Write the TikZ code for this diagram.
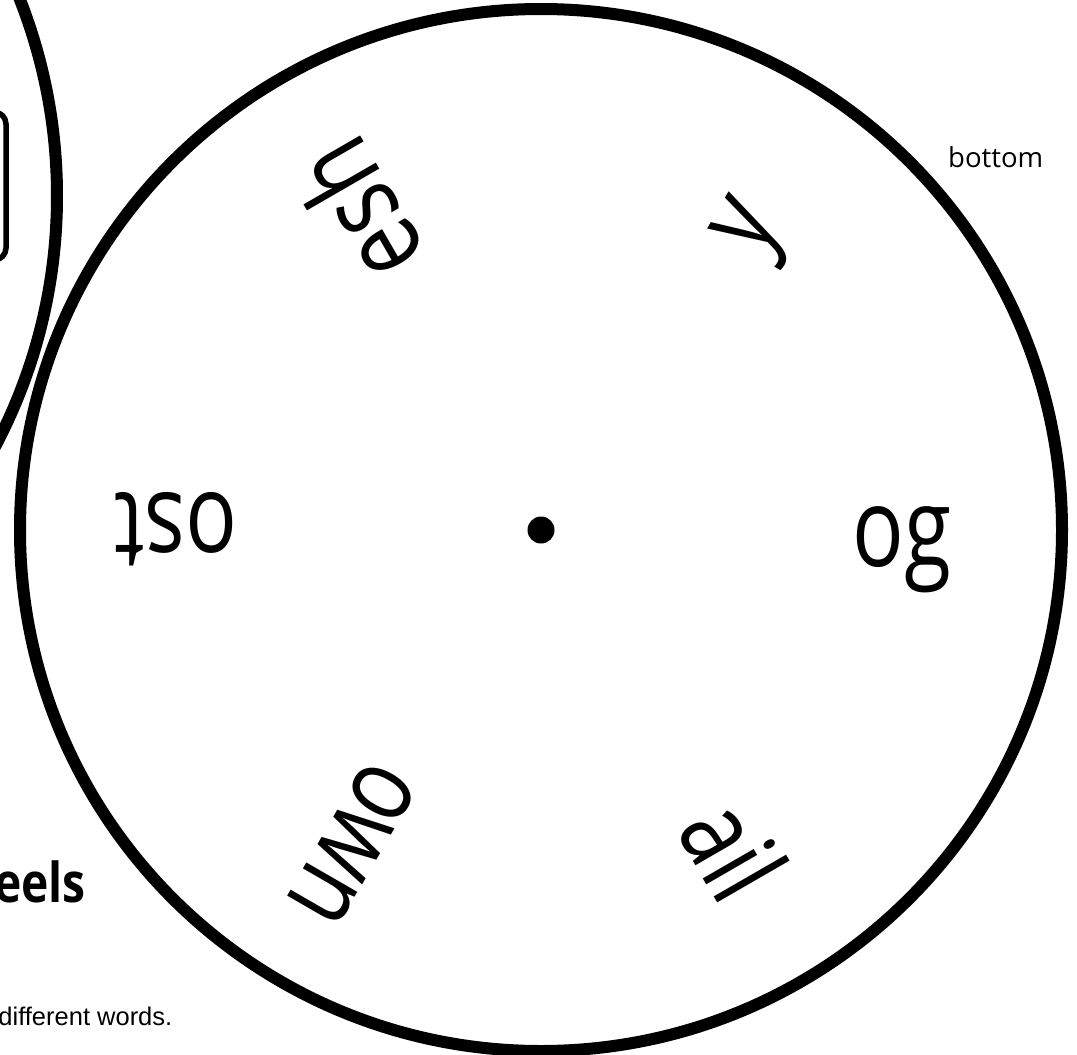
\documentclass[tikz,border=0pt]{standalone}
\usepackage{fontspec}
\setmainfont{Open Sans}
\newfontfamily\wheelfont[FakeStretch=0.78]{Open Sans}
\newfontfamily\titlefont[FakeStretch=0.84]{Open Sans}
\newfontfamily\arialfont{Liberation Sans}
\begin{document}
\begin{tikzpicture}[x=1pt,y=-1pt,
  ring/.style={line width=12pt, draw=black},
  word/.style={font=\wheelfont\fontsize{110}{120}\selectfont, inner sep=0pt,
    text height=100pt, text depth=27pt, anchor=center},
  hubdot/.style={fill=black, circle, minimum size=27pt, inner sep=0pt},
]
\useasboundingbox (0,0) rectangle (1077,1055);
\clip (0,0) rectangle (1077,1055);
% partial top wheel at left
\draw[line width=5.5pt, rounded corners=12pt] (-60,112) rectangle (6,260);
\draw[ring] (-480,196) circle[radius=537];
% bottom wheel
\draw[ring] (541,530) circle[radius=521];
\node[hubdot] (hub) at (541,530) {};
\node[word, rotate=0]   (w0) at (902,530)     {og};
\node[word, rotate=60]  (w1) at (738,222)     {y};
\node[word, rotate=120] (w2) at (361,210)     {esh};
\node[word, rotate=180] (w3) at (176,530)     {ost};
\node[word, rotate=240] (w4) at (358.5,847)   {own};
\node[word, rotate=300] (w5) at (730,852)     {ail};
% labels
\node[font=\fontsize{27.5}{33}\selectfont, anchor=base west, inner sep=0pt] (bottomlabel) at (948,167) {bottom};
\node[font=\titlefont\bfseries\fontsize{55}{64}\selectfont, anchor=base east, inner sep=0pt] (title) at (86,902) {eels};
\node[font=\arialfont\fontsize{25.5}{30}\selectfont, anchor=base east, inner sep=0pt] (note) at (172.5,1025) {different words.};
\end{tikzpicture}
\end{document}
